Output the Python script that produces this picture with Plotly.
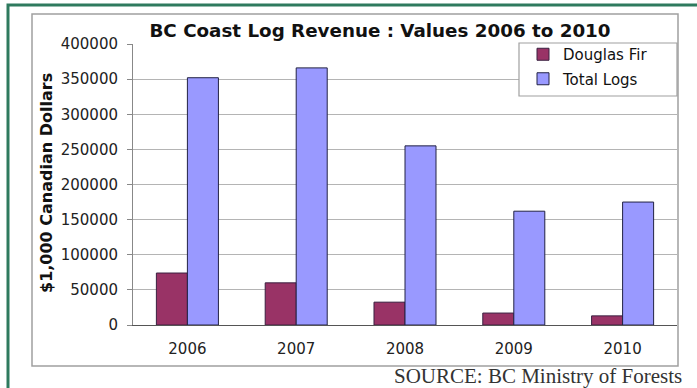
import plotly.graph_objects as go

years = ["2006", "2007", "2008", "2009", "2010"]
douglas_fir = [74000, 60000, 32500, 17000, 13000]
total_logs = [352000, 366000, 255000, 162000, 175000]
y_ticks = [0, 50000, 100000, 150000, 200000, 250000, 300000, 350000, 400000]

W, H = 697, 388
L, R, T, B = 133, 677, 44, 325  # plot area in px


def px(x):
    return (x - L) / (R - L)


def py(y):
    return (B - y) / (B - T)


fig = go.Figure()
fig.add_trace(go.Bar(x=years, y=douglas_fir, name="Douglas Fir",
                     marker=dict(color="#993366", line=dict(color="#3a2040", width=1)),
                     legendgroup="a"))
fig.add_trace(go.Bar(x=years, y=total_logs, name="Total Logs",
                     marker=dict(color="#9999FF", line=dict(color="#222244", width=1)),
                     legendgroup="b"))

shapes = [
    # green outer frame
    dict(type="rect", xref="paper", yref="paper", x0=px(8), x1=px(702), y0=py(398), y1=py(5),
         line=dict(color="#2e7a5e", width=3), fillcolor="rgba(0,0,0,0)", layer="below"),
    # gray inner chart box
    dict(type="rect", xref="paper", yref="paper", x0=px(32), x1=px(678), y0=py(366), y1=py(14),
         line=dict(color="#a0a0a0", width=1.5), fillcolor="rgba(0,0,0,0)", layer="below"),
    # legend box
    dict(type="rect", xref="paper", yref="paper", x0=px(519), x1=px(677), y0=py(96), y1=py(43),
         line=dict(color="#a0a0a0", width=1.2), fillcolor="white", layer="above"),
]

annotations = [
    dict(text="<b>$1,000 Canadian Dollars</b>", xref="paper", yref="paper",
         x=px(46), y=py(183), textangle=-90, showarrow=False,
         font=dict(family="DejaVu Sans", size=16, color="#111"),
         xanchor="center", yanchor="middle"),
    dict(text="SOURCE: BC Ministry of Forests", xref="paper", yref="paper",
         x=px(684), y=py(390), showarrow=False, xanchor="right", yanchor="bottom",
         font=dict(family="Liberation Serif", size=21, color="#333")),
]

fig.update_layout(
    width=W, height=H,
    margin=dict(l=L, r=W - R, t=T, b=H - B),
    paper_bgcolor="white", plot_bgcolor="white",
    title=dict(text="<b>BC Coast Log Revenue : Values 2006 to 2010</b>",
               x=px(380), xref="paper", xanchor="center",
               y=1 - 31 / H, yref="container", yanchor="middle",
               font=dict(family="DejaVu Sans", size=18.3, color="#111")),
    barmode="group", bargap=0.43, bargroupgap=0,
    showlegend=True,
    legend=dict(x=px(523), y=py(38), xanchor="left", yanchor="top",
                bgcolor="rgba(0,0,0,0)", borderwidth=0,
                font=dict(family="DejaVu Sans", size=15, color="#111"),
                tracegroupgap=2, traceorder="grouped", itemwidth=30),
    shapes=shapes,
    annotations=annotations,
    font=dict(family="DejaVu Sans", color="#222"),
)

fig.update_yaxes(range=[0, 400000], tickvals=y_ticks, tickformat="d",
                 showgrid=True, gridcolor="#b4b4b4", gridwidth=1,
                 showline=True, linecolor="#888", linewidth=1,
                 ticks="outside", ticklen=5, tickcolor="#888",
                 tickfont=dict(family="DejaVu Sans", size=15, color="#222"),
                 zeroline=False, ticklabelstandoff=6)
fig.update_xaxes(type="category", showline=True, linecolor="#555", linewidth=1,
                 ticks="", tickfont=dict(family="DejaVu Sans", size=15, color="#222"),
                 ticklabelstandoff=10)

fig.write_html("out.html")
